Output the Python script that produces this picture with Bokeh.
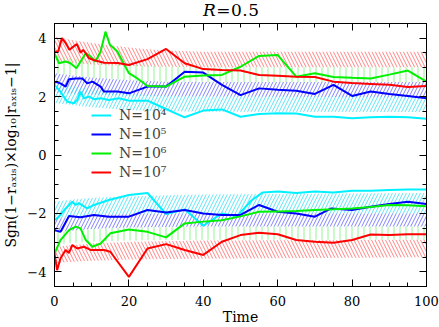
from bokeh.plotting import figure
from bokeh.layouts import column
from bokeh.models import (Range1d, LinearAxis, SingleIntervalTicker, Legend, LegendItem, Div,
                          CustomLabelingPolicy, CustomJSTickFormatter)
from bokeh.embed import file_html
from bokeh.resources import INLINE

# ---------------- data ----------------
title_italic = "R"
title_rest = "=0.5"
x_label = "Time"
y_label = "Sgn(1\u2212r\u2090\u2093\u1d62\u209b)\u00d7log\u2081\u2080|r\u2090\u2093\u1d62\u209b\u22121|"
legend_labels = ["N=10\u2074", "N=10\u2075", "N=10\u2076", "N=10\u2077"]
y_ticks = [-4, -2, 0, 2, 4]
y_tick_labels = ["\u22124", "\u22122", "0", "2", "4"]

# positive-branch curves
red_up_t = [0, 1, 2, 3, 4, 5, 6, 7, 7.7, 8.4, 9.2, 10.5, 13.3, 17, 20, 25, 30, 35, 40, 45, 50, 55, 60, 65, 70, 75, 80, 85, 90, 95, 100]
red_up_v = [3.53, 3.55, 4.0, 3.83, 3.6, 3.7, 3.8, 3.5, 3.6, 3.49, 3.32, 3.25, 3.16, 3.15, 3.08, 3.28, 3.63, 3.14, 2.94, 2.91, 2.89, 2.74, 2.71, 2.68, 2.67, 2.51, 2.46, 2.43, 2.4, 2.33, 2.36]
green_up_t = [0, 1.2, 3, 4.3, 5.9, 7, 8.4, 9.7, 11, 12.4, 13.7, 14.9, 16.9, 20, 22.3, 25, 30, 35, 40, 45, 50, 55, 60, 65, 70, 75, 80, 85, 90, 95, 100]
green_up_v = [3.48, 3.14, 3.2, 3.14, 2.97, 3.2, 3.48, 3.37, 3.2, 3.54, 4.22, 3.77, 3.54, 2.8, 2.62, 2.36, 2.34, 2.68, 2.72, 2.74, 3.02, 3.39, 3.42, 2.68, 2.8, 2.67, 2.64, 2.62, 2.75, 2.89, 2.51]
blue_up_t = [0, 1.6, 3, 3.9, 5.7, 7.5, 8.8, 10.2, 12.4, 13.3, 16.9, 20, 25, 30, 35, 40, 45, 50, 55, 60, 65, 70, 75, 80, 85, 90, 95, 100]
blue_up_v = [2.51, 2.45, 2.34, 2.59, 2.62, 2.62, 2.45, 2.51, 2.34, 2.17, 2.17, 2.11, 2.34, 2.34, 2.85, 2.82, 2.4, 2.05, 2.28, 2.23, 2.2, 2.09, 2.4, 2.02, 2.17, 2.09, 2.02, 1.94]
cyan_up_t = [0, 1.6, 3.4, 5.2, 6.1, 7, 7.9, 9.3, 10.6, 12.4, 14.6, 17.3, 20, 25, 28.6, 35, 40, 45, 50, 55, 60, 65, 70, 75, 80, 85, 90, 95, 100]
cyan_up_v = [2.4, 2.17, 1.83, 1.77, 1.88, 2.17, 1.94, 2.0, 1.91, 1.94, 1.88, 1.94, 1.86, 1.86, 1.65, 1.29, 1.52, 1.56, 1.31, 1.4, 1.43, 1.42, 1.31, 1.31, 1.26, 1.29, 1.31, 1.29, 1.24]

# negative-branch curves
cyan_dn_t = [0, 1.2, 3, 4.8, 5.7, 6.5, 8.8, 10.6, 14.6, 20, 25, 30, 35, 40, 45, 49, 53, 56, 60, 65, 70, 75, 80, 85, 90, 95, 100]
cyan_dn_v = [-2.23, -2.11, -1.83, -1.6, -1.71, -1.65, -1.83, -1.71, -1.54, -1.37, -1.3, -2.02, -1.86, -2.42, -2.0, -2.1, -1.55, -1.28, -1.25, -1.3, -1.25, -1.28, -1.22, -1.22, -1.2, -1.18, -1.18]
blue_dn_t = [0, 1.6, 3.9, 5.7, 7, 10.6, 14.6, 20, 25, 30, 35, 40, 45, 50, 55, 60, 65, 70, 74.4, 80, 85, 90, 95, 100]
blue_dn_v = [-2.57, -2.63, -2.09, -2.11, -2.13, -2.05, -2.11, -2.11, -1.88, -1.97, -1.88, -2.0, -2.05, -2.05, -1.71, -1.94, -2.0, -2.11, -1.83, -1.88, -1.77, -1.68, -1.6, -1.68]
green_dn_t = [0, 1.6, 3.9, 5.7, 7, 8.4, 10.2, 12.4, 15, 20, 25, 30, 35, 40, 45, 50, 55, 60, 65, 70, 75, 80, 85, 90, 95, 100]
green_dn_v = [-3.37, -2.91, -2.57, -2.45, -2.51, -2.91, -3.14, -3.03, -2.68, -2.55, -2.63, -2.82, -2.34, -2.28, -2.23, -2.1, -1.94, -1.93, -1.92, -1.88, -1.86, -1.83, -1.78, -1.71, -1.72, -1.75]
red_dn_t = [0, 0.7, 1.6, 3, 3.9, 4.8, 6.1, 7.9, 9.7, 13.3, 15, 20, 25, 30, 35, 40, 45, 50, 55, 60, 65, 70, 75, 80, 85, 90, 95, 100]
red_dn_v = [-3.37, -3.94, -3.54, -3.25, -3.35, -3.08, -3.2, -3.14, -3.25, -3.25, -3.31, -4.17, -3.2, -3.05, -3.25, -3.42, -2.97, -2.74, -2.66, -2.71, -2.91, -2.97, -3.0, -2.91, -2.72, -2.74, -2.71, -2.71]

# hatched bands
band_t = [0, 5, 10, 15, 20, 25, 30, 40, 100]
red_band_hi = [4.05, 3.93, 3.83, 3.75, 3.68, 3.62, 3.58, 3.53, 3.53]
red_band_lo = [3.2, 3.15, 3.1, 3.07, 3.05, 3.03, 3.02, 3.0, 3.0]
green_band_hi = [3.4, 3.3, 3.22, 3.15, 3.1, 3.06, 3.03, 3.0, 3.0]
green_band_lo = [2.8, 2.72, 2.65, 2.6, 2.56, 2.53, 2.51, 2.5, 2.5]
blue_band_hi = [2.8, 2.72, 2.65, 2.6, 2.56, 2.53, 2.51, 2.5, 2.5]
blue_band_lo = [2.15, 2.1, 2.07, 2.05, 2.03, 2.02, 2.01, 2.0, 1.97]
cyan_band_hi = [2.45, 2.35, 2.25, 2.17, 2.1, 2.06, 2.03, 2.0, 2.0]
cyan_band_lo = [1.78, 1.7, 1.63, 1.58, 1.54, 1.51, 1.5, 1.48, 1.47]

cyan_nband_hi = [-1.6, -1.52, -1.47, -1.44, -1.42, -1.4, -1.38, -1.35, -1.3]
cyan_nband_lo = [-2.2, -2.12, -2.07, -2.04, -2.02, -2.01, -2.0, -2.0, -2.0]
blue_nband_hi = [-2.2, -2.12, -2.07, -2.04, -2.02, -2.01, -2.0, -2.0, -2.0]
blue_nband_lo = [-2.65, -2.58, -2.53, -2.5, -2.48, -2.47, -2.46, -2.45, -2.45]
green_nband_hi = [-2.65, -2.58, -2.53, -2.5, -2.48, -2.47, -2.46, -2.45, -2.45]
green_nband_lo = [-3.05, -3.0, -2.97, -2.95, -2.93, -2.92, -2.91, -2.9, -2.9]
red_nband_hi = [-3.15, -3.08, -3.03, -3.0, -2.98, -2.96, -2.95, -2.93, -2.9]
red_nband_lo = [-3.7, -3.65, -3.62, -3.6, -3.58, -3.57, -3.56, -3.55, -3.5]

# ---------------- figure ----------------
FONT = "DejaVu Serif"
p = figure(width=439, height=307, x_range=Range1d(0, 100), y_range=Range1d(-4.5, 4.5),
           output_backend="svg", toolbar_location=None, title=None,
           min_border_left=54, min_border_right=13, min_border_top=3, min_border_bottom=41)
p.grid.visible = False
p.outline_line_color = "black"
p.outline_line_width = 1
p.background_fill_color = "white"
p.border_fill_color = "white"

xt = SingleIntervalTicker(interval=20, num_minor_ticks=4)
yt = SingleIntervalTicker(interval=2, num_minor_ticks=4)

def style_axis(ax, ticker):
    ax.ticker = ticker
    ax.axis_line_color = "black"
    ax.major_tick_in = 7
    ax.major_tick_out = 0
    ax.minor_tick_in = 4
    ax.minor_tick_out = 0
    ax.major_tick_line_color = "black"
    ax.minor_tick_line_color = "black"
    ax.major_label_text_font = FONT
    ax.major_label_text_font_size = "13px"
    ax.major_label_text_color = "black"
    ax.axis_label_text_font = FONT
    ax.axis_label_text_font_style = "normal"
    ax.axis_label_text_color = "black"

style_axis(p.xaxis[0], xt)
style_axis(p.yaxis[0], yt)
p.xaxis.axis_label = x_label
p.xaxis.axis_label_text_font_size = "14px"
p.xaxis.major_label_standoff = 9
p.xaxis.axis_label_standoff = 0
p.yaxis.axis_label = y_label
p.yaxis.axis_label_text_font_size = "14px"
p.yaxis.major_label_standoff = 8
p.yaxis.axis_label_standoff = 5
p.yaxis.major_label_overrides = {t: l for t, l in zip(y_ticks, y_tick_labels)}

# mirrored tick marks on the top and right edges, without labels
hide_labels = CustomLabelingPolicy(code="""
try { for (let i = 0; i < indices.size; i++) indices.unset(i) } catch (e) {}
return indices
""")
for loc, tk in (("above", xt), ("right", yt)):
    ax = LinearAxis()
    style_axis(ax, tk)
    ax.formatter = CustomJSTickFormatter(code="return ''")
    ax.major_label_text_font_size = "1px"
    ax.major_label_policy = hide_labels
    ax.major_label_standoff = 0
    p.add_layout(ax, loc)

# bands
def band(lo, hi, pattern, color, scale):
    p.varea(x=band_t, y1=lo, y2=hi, fill_alpha=0, hatch_pattern=pattern,
            hatch_color=color, hatch_alpha=0.85, hatch_scale=scale, hatch_weight=1)

band(red_band_lo, red_band_hi, "\\", "#ff6f6f", 7)
band(green_band_lo, green_band_hi, "|", "#80f080", 6)
band(blue_band_lo, blue_band_hi, "/", "#6a6aff", 7)
band(cyan_band_lo, cyan_band_hi, "/", "#40e0f4", 7)
band(cyan_nband_lo, cyan_nband_hi, "/", "#40e0f4", 7)
band(blue_nband_lo, blue_nband_hi, "/", "#6a6aff", 7)
band(green_nband_lo, green_nband_hi, "|", "#80f080", 6)
band(red_nband_lo, red_nband_hi, "\\", "#ff6f6f", 7)

# lines
colors = ["#00f0ff", "#0000ff", "#00f000", "#ff0000"]
ups = [(cyan_up_t, cyan_up_v), (blue_up_t, blue_up_v), (green_up_t, green_up_v), (red_up_t, red_up_v)]
dns = [(cyan_dn_t, cyan_dn_v), (blue_dn_t, blue_dn_v), (green_dn_t, green_dn_v), (red_dn_t, red_dn_v)]
items = []
for c, (ut, uv), (dt, dv), lab in zip(colors, ups, dns, legend_labels):
    r1 = p.line(ut, uv, line_color=c, line_width=2)
    p.line(dt, dv, line_color=c, line_width=2)
    items.append(LegendItem(label=lab, renderers=[r1]))

leg = Legend(items=items, location=(37, 106), glyph_width=20, glyph_height=14,
             label_height=14, spacing=3, padding=0, margin=0, label_standoff=8,
             label_text_font=FONT, label_text_font_size="14px",
             background_fill_alpha=0, border_line_alpha=0)
p.add_layout(leg)

# title (italic R as in the reference)
title = Div(text=f"<div style=\"font-family:'DejaVu Serif';font-size:17px;line-height:20px;"
                 f"margin-left:203px;letter-spacing:0.5px;white-space:nowrap;color:black\">"
                 f"<i>{title_italic}</i>{title_rest}</div>",
            width=439, height=20, margin=0)

layout = column(title, p, spacing=0)
open("out.html", "w").write(file_html(layout, INLINE))
